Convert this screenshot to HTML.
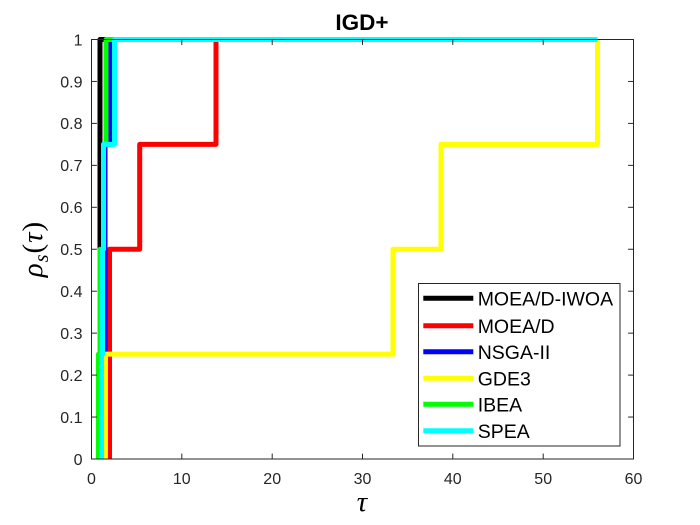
<!DOCTYPE html>
<html>
<head>
<meta charset="utf-8">
<style>
html,body{margin:0;padding:0;background:#fff;}
svg{display:block;}
text{font-family:"Liberation Sans",Arial,sans-serif;fill:#262626;}
.tk{font-size:16px;}
.lg{font-size:19.5px;fill:#000;}
.mt{font-family:"Liberation Serif","DejaVu Serif",serif;fill:#000;}
</style>
</head>
<body>
<svg width="700" height="525" viewBox="0 0 700 525" xmlns="http://www.w3.org/2000/svg">
<rect x="0" y="0" width="700" height="525" fill="#fff"/>
<!-- axes box -->
<rect x="91.5" y="39.5" width="542" height="419.5" fill="#fff" stroke="none"/>

<!-- series -->
<g fill="none" stroke-width="5" stroke-linejoin="round" stroke-linecap="butt">
  <!-- MOEA/D-IWOA black -->
  <polyline stroke="#000000" points="100,459 100,39.5 597.5,39.5"/>
  <!-- MOEA/D red -->
  <polyline stroke="#ff0000" points="109.5,459 109.5,249.25 139.7,249.25 139.7,144.4 216,144.4 216,39.5 597.5,39.5"/>
  <!-- NSGA-II blue -->
  <polyline stroke="#0000ff" points="105,459 105,144.4 110.5,144.4 110.5,39.5 597.5,39.5"/>
  <!-- GDE3 yellow -->
  <polyline stroke="#ffff00" points="105.5,459 105.5,354.1 393,354.1 393,249.25 441,249.25 441,144.4 597.5,144.4 597.5,39.5"/>
  <!-- IBEA green -->
  <polyline stroke="#00ff00" points="98.5,459 98.5,354.1 100,354.1 100,249.25 103.5,249.25 103.5,144.4 106,144.4 106,39.5 597.5,39.5"/>
  <!-- SPEA cyan -->
  <polyline stroke="#00ffff" points="101.5,459 101.5,354.1 102.5,354.1 102.5,249.25 103.5,249.25 103.5,144.4 114.5,144.4 114.5,39.5 597.5,39.5"/>
</g>

<!-- axes lines -->
<rect x="91.5" y="39.5" width="542" height="419.5" fill="none" stroke="#262626" stroke-width="1"/>

<!-- ticks -->
<g stroke="#262626" stroke-width="1">
  <!-- x ticks bottom & top -->
  <line x1="181.8" y1="459" x2="181.8" y2="453.6"/>
  <line x1="272.2" y1="459" x2="272.2" y2="453.6"/>
  <line x1="362.5" y1="459" x2="362.5" y2="453.6"/>
  <line x1="452.8" y1="459" x2="452.8" y2="453.6"/>
  <line x1="543.2" y1="459" x2="543.2" y2="453.6"/>
  <line x1="181.8" y1="39.5" x2="181.8" y2="44.9"/>
  <line x1="272.2" y1="39.5" x2="272.2" y2="44.9"/>
  <line x1="362.5" y1="39.5" x2="362.5" y2="44.9"/>
  <line x1="452.8" y1="39.5" x2="452.8" y2="44.9"/>
  <line x1="543.2" y1="39.5" x2="543.2" y2="44.9"/>
  <!-- y ticks left & right -->
  <line x1="91.5" y1="417.05" x2="96.9" y2="417.05"/>
  <line x1="91.5" y1="375.1" x2="96.9" y2="375.1"/>
  <line x1="91.5" y1="333.15" x2="96.9" y2="333.15"/>
  <line x1="91.5" y1="291.2" x2="96.9" y2="291.2"/>
  <line x1="91.5" y1="249.25" x2="96.9" y2="249.25"/>
  <line x1="91.5" y1="207.3" x2="96.9" y2="207.3"/>
  <line x1="91.5" y1="165.35" x2="96.9" y2="165.35"/>
  <line x1="91.5" y1="123.4" x2="96.9" y2="123.4"/>
  <line x1="91.5" y1="81.45" x2="96.9" y2="81.45"/>
  <line x1="633.5" y1="417.05" x2="628.1" y2="417.05"/>
  <line x1="633.5" y1="375.1" x2="628.1" y2="375.1"/>
  <line x1="633.5" y1="333.15" x2="628.1" y2="333.15"/>
  <line x1="633.5" y1="291.2" x2="628.1" y2="291.2"/>
  <line x1="633.5" y1="249.25" x2="628.1" y2="249.25"/>
  <line x1="633.5" y1="207.3" x2="628.1" y2="207.3"/>
  <line x1="633.5" y1="165.35" x2="628.1" y2="165.35"/>
  <line x1="633.5" y1="123.4" x2="628.1" y2="123.4"/>
  <line x1="633.5" y1="81.45" x2="628.1" y2="81.45"/>
</g>

<!-- x tick labels -->
<g class="tk" text-anchor="middle">
  <text class="tk" x="91.5" y="484">0</text>
  <text class="tk" x="181.8" y="484">10</text>
  <text class="tk" x="272.2" y="484">20</text>
  <text class="tk" x="362.5" y="484">30</text>
  <text class="tk" x="452.8" y="484">40</text>
  <text class="tk" x="543.2" y="484">50</text>
  <text class="tk" x="633.5" y="484">60</text>
</g>
<!-- y tick labels -->
<g text-anchor="end">
  <text class="tk" x="82.5" y="464.8">0</text>
  <text class="tk" x="82.5" y="422.85">0.1</text>
  <text class="tk" x="82.5" y="380.9">0.2</text>
  <text class="tk" x="82.5" y="338.95">0.3</text>
  <text class="tk" x="82.5" y="297">0.4</text>
  <text class="tk" x="82.5" y="255.05">0.5</text>
  <text class="tk" x="82.5" y="213.1">0.6</text>
  <text class="tk" x="82.5" y="171.15">0.7</text>
  <text class="tk" x="82.5" y="129.2">0.8</text>
  <text class="tk" x="82.5" y="87.25">0.9</text>
  <text class="tk" x="82.5" y="45.3">1</text>
</g>

<!-- title -->
<text x="362" y="30" text-anchor="middle" style="font-size:22.5px;font-weight:bold;fill:#000;">IGD+</text>

<!-- x label -->
<text class="mt" x="362" y="511" text-anchor="middle" style="font-size:29px;font-style:italic;">τ</text>

<!-- y label -->
<text class="mt" transform="translate(42,249) rotate(-90)" text-anchor="middle" style="font-size:29px;letter-spacing:1px;"><tspan font-style="italic">ρ</tspan><tspan font-size="20" dy="6" font-style="italic">s</tspan><tspan dy="-6">(</tspan><tspan font-style="italic">τ</tspan>)</text>

<!-- legend -->
<rect x="418.5" y="283.5" width="201.5" height="162.5" fill="#fff" stroke="#262626" stroke-width="1"/>
<g stroke-width="5" fill="none">
  <line x1="423.3" y1="298.3" x2="473.3" y2="298.3" stroke="#000000"/>
  <line x1="423.3" y1="325.7" x2="473.3" y2="325.7" stroke="#ff0000"/>
  <line x1="423.3" y1="351.7" x2="473.3" y2="351.7" stroke="#0000ff"/>
  <line x1="423.3" y1="378.3" x2="473.3" y2="378.3" stroke="#ffff00"/>
  <line x1="423.3" y1="404.3" x2="473.3" y2="404.3" stroke="#00ff00"/>
  <line x1="423.3" y1="430.7" x2="473.3" y2="430.7" stroke="#00ffff"/>
</g>
<text class="lg" x="477.7" y="305.5">MOEA/D-IWOA</text>
<text class="lg" x="477.7" y="332.9">MOEA/D</text>
<text class="lg" x="477.7" y="358.9">NSGA-II</text>
<text class="lg" x="477.7" y="385.5">GDE3</text>
<text class="lg" x="477.7" y="411.5">IBEA</text>
<text class="lg" x="477.7" y="437.9">SPEA</text>
</svg>
</body>
</html>
